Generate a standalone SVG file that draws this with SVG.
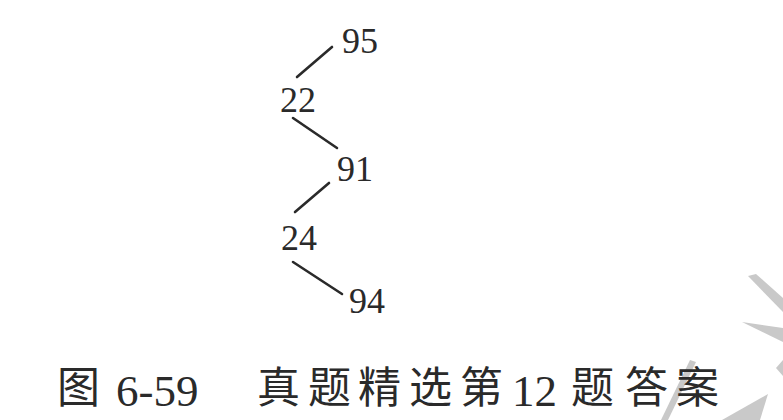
<svg xmlns="http://www.w3.org/2000/svg" width="783" height="420" viewBox="0 0 783 420">
<style>
.num{font-family:"Liberation Serif","Times New Roman",serif;font-size:36px;fill:#2a2a2a}
.cap{font-family:"Noto Sans CJK SC","Noto Sans CJK JP",sans-serif;font-size:43px;fill:#2a2a2a}
.capn{font-family:"Liberation Serif","Times New Roman",serif;font-size:45px;fill:#2a2a2a}
.edge{stroke:#2a2a2a;stroke-width:2.6;stroke-linecap:round;fill:none}
.wm{fill:#c9c9c9}
</style>
<rect width="783" height="420" fill="#ffffff"/>
<g id="watermark">
<polygon class="wm" points="748,276 756,274 783,298 783,312"/>
<polygon class="wm" points="742,322 783,328 783,342"/>
<polygon class="wm" points="690,360 696,362 668,420 661,420"/>
<polygon class="wm" points="722,420 768,394 760,420"/>
<polygon class="wm" points="776,368 783,360 783,376"/>
</g>
<g id="connectors">
<line class="edge" x1="332" y1="47" x2="297" y2="77"/>
<line class="edge" x1="293" y1="118" x2="337" y2="148"/>
<line class="edge" x1="329" y1="183" x2="295" y2="212"/>
<line class="edge" x1="293" y1="262" x2="342" y2="294"/>
</g>
<g id="n95"><text class="num" x="342" y="53">95</text></g>
<g id="n22"><text class="num" x="280" y="112">22</text></g>
<g id="n91"><text class="num" x="337" y="181">91</text></g>
<g id="n24"><text class="num" x="281" y="250">24</text></g>
<g id="n94"><text class="num" x="349" y="313">94</text></g>
<g id="caption">
<text class="cap" x="57" y="403">图</text>
<text class="capn" x="116" y="406">6-59</text>
<text class="cap" x="257" y="403">真</text>
<text class="cap" x="308" y="403">题</text>
<text class="cap" x="358" y="403">精</text>
<text class="cap" x="409" y="403">选</text>
<text class="cap" x="460" y="403">第</text>
<text class="capn" x="512" y="406">12</text>
<text class="cap" x="571" y="403">题</text>
<text class="cap" x="625" y="403">答</text>
<text class="cap" x="676" y="403">案</text>
</g>
</svg>
